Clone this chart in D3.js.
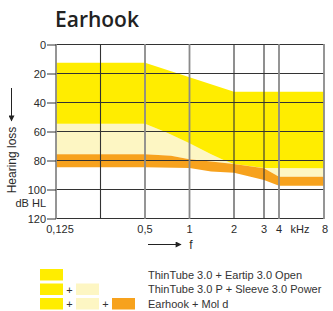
<!DOCTYPE html>
<html lang="en">
<head>
<meta charset="utf-8">
<title>Earhook</title>
<script type="text/javascript" src="https://d3js.org/d3.v7.min.js"></script>
<style>
  body { margin: 0; background: #fff; }
  text { font-family: "Liberation Sans", Arial, sans-serif; fill: #2a2a2a; }
  .title { font-family: "Open Sans", sans-serif; font-weight: 600; font-size: 21px; fill: #222; }
  .tick text { font-size: 11px; }
  .lab { font-size: 11px; }
  .legend { font-size: 11px; fill: #333; }
</style>
</head>
<body>
<div id="chart"></div>
<script type="text/javascript">

var w = 333;
var h = 311;

// data: [frequency kHz, dB HL]
var openTop = [[0.125, 13], [0.5, 13], [2, 33], [8, 33]];
var openBottom = [[0.125, 55], [0.5, 55], [0.7, 61], [1, 68.5], [1.4, 76], [1.7, 80], [2, 82.8], [3, 85.5], [8, 85.7]];
var powerBottom = [[0.125, 76], [0.5, 76], [0.75, 77], [1, 79.5], [1.4, 81], [2, 82.8], [3, 85.7], [4, 91.5], [8, 91.5]];
var moldBottom = [[0.125, 85], [0.5, 85], [1, 85.5], [1.4, 88], [2, 88.8], [3, 93.8], [4, 97.7], [8, 97.7]];

var gridFreqs = [0.125, 0.25, 0.5, 1, 2, 3, 4, 8];
var lightGrid = [0.125, 0.5, 1, 4, 8];
var freqLabels = [0.125, 0.5, 1, 2, 3, 4, 8];
var dbTicks = [0, 20, 40, 60, 80, 100, 120];

var legendRows = [
  {n: 1, label: "ThinTube 3.0 + Eartip 3.0 Open"},
  {n: 2, label: "ThinTube 3.0 P + Sleeve 3.0 Power"},
  {n: 3, label: "Earhook + Mol d"}
];
var bandColors = ["#ffed00", "#fdf6c3", "#f7a21d"];

var svg = d3.select("#chart").append("svg")
  .attr("width", w).attr("height", h);

var x = d3.scaleLog()
  .domain([0.125, 2, 3, 4, 8])
  .range([56, 234, 264, 279, 324]);

var y = d3.scaleLinear()
  .domain([0, 120])
  .range([44, 218]);

var line = d3.line().x(function(d) { return x(d[0]); }).y(function(d) { return y(d[1]); });

function band(top, bottom) {
  return line(top.concat(bottom.slice().reverse())) + "Z";
}

// bands
svg.append("path").attr("d", band(openBottom, powerBottom)).attr("fill", bandColors[1]);
svg.append("path").attr("d", band(openTop, openBottom)).attr("fill", bandColors[0]);
svg.append("path").attr("d", band(powerBottom, moldBottom)).attr("fill", bandColors[2]);

// grid
svg.append("g").selectAll("line")
  .data(dbTicks).enter().append("line")
  .attr("x1", 56).attr("x2", 324)
  .attr("y1", function(d) { return y(d) + 0.5; })
  .attr("y2", function(d) { return y(d) + 0.5; })
  .attr("stroke", "#333").attr("stroke-width", 1);

svg.append("g").selectAll("line")
  .data(gridFreqs).enter().append("line")
  .attr("x1", function(d) { return x(d); })
  .attr("x2", function(d) { return x(d); })
  .attr("y1", y(0)).attr("y2", y(120) + 1)
  .attr("stroke", function(d) { return lightGrid.indexOf(d) >= 0 ? "#8a8a8a" : "#333"; })
  .attr("stroke-width", function(d) { return lightGrid.indexOf(d) >= 0 ? 1.8 : 1.1; });

// y axis
var yAxis = d3.axisLeft(y).tickValues(dbTicks).tickSize(9).tickPadding(1);
var ya = svg.append("g").attr("transform", "translate(56,0.5)").call(yAxis);
ya.select(".domain").remove();
ya.selectAll(".tick line").attr("stroke", "#333");
ya.selectAll(".tick text").attr("dy", "0.36em").style("fill", "#2a2a2a");

// x labels
svg.append("g").selectAll("text")
  .data(freqLabels).enter().append("text")
  .attr("class", "lab")
  .attr("x", function(d) { return x(d); })
  .attr("y", 233)
  .attr("text-anchor", function(d) { return d === 8 ? "end" : "middle"; })
  .attr("dx", function(d) { return d === 0.125 ? 4 : (d === 8 ? 4 : 0); })
  .text(function(d) { return String(d).replace(".", ","); });
svg.append("text").attr("class", "lab").attr("x", 300).attr("y", 233)
  .attr("text-anchor", "middle").text("kHz");

// arrows
var defs = svg.append("defs");
defs.append("marker").attr("id", "arr")
  .attr("viewBox", "0 0 10 10").attr("refX", 9).attr("refY", 5)
  .attr("markerWidth", 8).attr("markerHeight", 6)
  .attr("markerUnits", "userSpaceOnUse")
  .attr("orient", "auto")
  .append("path").attr("d", "M0,0L10,5L0,10Z").attr("fill", "#222");

svg.append("line").attr("x1", 148).attr("x2", 181).attr("y1", 244.5).attr("y2", 244.5)
  .attr("stroke", "#222").attr("stroke-width", 1).attr("marker-end", "url(#arr)");
svg.append("text").attr("class", "lab").attr("x", 191).attr("y", 249)
  .attr("text-anchor", "middle").style("font-size", "12px").text("f");

svg.append("line").attr("x1", 11.5).attr("x2", 11.5).attr("y1", 88).attr("y2", 121)
  .attr("stroke", "#222").attr("stroke-width", 1).attr("marker-end", "url(#arr)");
svg.append("text").attr("class", "lab")
  .attr("transform", "translate(15.5,160) rotate(-90)")
  .attr("text-anchor", "middle").style("font-size", "12px").text("Hearing loss");

svg.append("text").attr("class", "lab").attr("x", 46).attr("y", 207)
  .attr("text-anchor", "end").text("dB HL");

// title
svg.append("text").attr("class", "title").attr("x", 55).attr("y", 27).text("Earhook");

// legend
var leg = svg.append("g");
var rowY = [269, 283.5, 298];
legendRows.forEach(function(r, i) {
  for (var k = 0; k < r.n; k++) {
    leg.append("rect")
      .attr("x", 40 + k * 36).attr("y", rowY[i])
      .attr("width", 23).attr("height", 11.5)
      .attr("fill", bandColors[k]);
    if (k > 0) {
      leg.append("text").attr("class", "legend")
        .attr("x", 69.5 + (k - 1) * 36).attr("y", rowY[i] + 10)
        .attr("text-anchor", "middle").text("+");
    }
  }
  leg.append("text").attr("class", "legend")
    .attr("x", 148).attr("y", rowY[i] + 9.5).text(r.label);
});

</script>
</body>
</html>
